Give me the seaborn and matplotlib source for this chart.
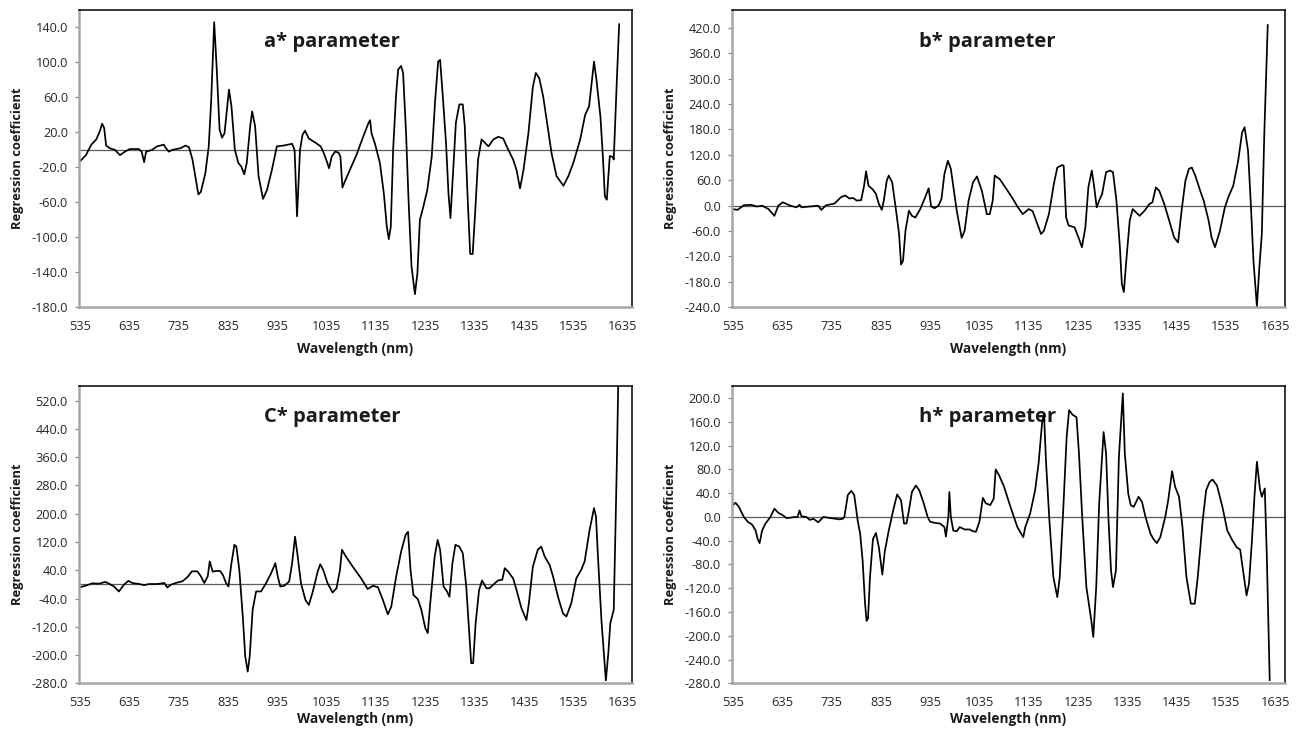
import matplotlib
matplotlib.use("Agg")
import matplotlib.pyplot as plt
import seaborn as sns
import pandas as pd
from matplotlib.ticker import FixedLocator, FormatStrFormatter

# ---------------- data (wavelength nm, regression coefficient) ----------------
A_DATA = [(535, -13), (547, -6), (558, 6), (568, 12), (575, 21), (580, 30), (584, 25), (588, 5), (595, 2),
          (606, 0), (616, -6), (626, -2), (636, 1), (654, 1), (660, -2), (665, -14), (669, -2), (681, 0),
          (691, 4), (705, 6), (708, 3), (715, -2), (722, 0), (739, 2), (749, 5), (756, 3), (763, -11),
          (770, -34), (775, -51), (780, -48), (789, -27), (796, 4), (801, 57), (807, 146), (812, 95),
          (818, 23), (823, 14), (828, 19), (837, 69), (842, 50), (849, 0), (856, -15), (862, -19),
          (868, -28), (873, -15), (880, 27), (884, 44), (890, 27), (897, -30), (906, -56), (914, -46),
          (924, -23), (934, 4), (948, 5), (965, 7), (970, 0), (975, -76), (981, 0), (986, 17), (991, 22),
          (999, 13), (1013, 8), (1023, 4), (1028, -2), (1034, -11), (1040, -21), (1045, -8), (1052, -2),
          (1059, -3), (1063, -8), (1067, -43), (1072, -36), (1082, -23), (1096, -5), (1109, 15),
          (1120, 31), (1123, 34), (1126, 19), (1133, 7), (1143, -15), (1151, -50), (1157, -88),
          (1161, -102), (1165, -88), (1170, 3), (1176, 65), (1180, 92), (1186, 96), (1190, 88),
          (1196, 19), (1201, -57), (1207, -133), (1214, -165), (1219, -141), (1224, -80), (1231, -65),
          (1239, -46), (1248, -8), (1255, 57), (1261, 101), (1265, 103), (1270, 65), (1277, 8),
          (1282, -50), (1286, -78), (1292, -19), (1297, 31), (1304, 52), (1311, 52), (1315, 27),
          (1321, -57), (1326, -119), (1331, -119), (1336, -72), (1342, -11), (1349, 12), (1356, 8),
          (1363, 4), (1373, 12), (1383, 15), (1393, 13), (1400, 4), (1413, -11), (1420, -23), (1427, -44),
          (1434, -23), (1444, 19), (1453, 72), (1459, 88), (1466, 82), (1474, 61), (1481, 34), (1491, -4),
          (1501, -30), (1515, -41), (1525, -30), (1535, -15), (1549, 12), (1559, 40), (1567, 50),
          (1572, 76), (1577, 101), (1582, 80), (1590, 38), (1595, -8), (1599, -53), (1603, -57),
          (1606, -31), (1609, -7), (1615, -8), (1617, -11), (1623, 76), (1628, 144)]

B_DATA = [(535, -8), (544, -10), (557, 1), (571, 2), (584, -2), (594, 0), (607, -8), (619, -24), (627, 0),
          (636, 8), (651, 0), (664, -4), (670, 2), (674, -4), (691, -2), (708, 0), (714, -10), (724, 1),
          (741, 5), (754, 20), (763, 24), (771, 17), (779, 18), (786, 12), (795, 13), (801, 47), (805, 81),
          (810, 47), (818, 39), (825, 28), (831, 4), (837, -10), (841, 12), (847, 59), (851, 71), (858, 55),
          (865, -4), (872, -67), (876, -139), (880, -130), (885, -59), (892, -12), (898, -24), (905, -28),
          (915, -8), (925, 20), (932, 41), (937, -2), (944, -6), (952, 0), (958, 16), (964, 75), (971, 106),
          (977, 87), (989, -12), (999, -76), (1005, -59), (1013, 12), (1022, 55), (1030, 69), (1040, 35),
          (1050, -20), (1056, -20), (1062, 12), (1066, 71), (1076, 63), (1090, 39), (1103, 16), (1113, -4),
          (1123, -20), (1135, -8), (1143, -13), (1150, -35), (1160, -67), (1166, -59), (1176, -20),
          (1186, 51), (1193, 90), (1203, 96), (1206, 94), (1211, -28), (1216, -47), (1228, -51),
          (1236, -75), (1243, -98), (1250, -51), (1256, 43), (1263, 83), (1268, 43), (1273, -4), (1278, 12),
          (1284, 28), (1292, 79), (1300, 83), (1306, 79), (1313, 12), (1320, -98), (1324, -185),
          (1328, -204), (1333, -130), (1340, -35), (1346, -8), (1353, -16), (1360, -24), (1370, -12),
          (1380, 4), (1386, 8), (1393, 43), (1400, 35), (1410, 4), (1420, -35), (1430, -75), (1438, -87),
          (1446, -4), (1453, 59), (1460, 87), (1466, 90), (1473, 71), (1483, 35), (1490, 12), (1500, -35),
          (1506, -75), (1513, -98), (1523, -59), (1533, -4), (1540, 20), (1550, 47), (1560, 106),
          (1568, 173), (1573, 185), (1580, 130), (1586, -4), (1591, -130), (1598, -238), (1603, -145),
          (1608, -67), (1613, 169), (1620, 427)]

C_DATA = [(535, -8), (548, -3), (560, 3), (574, 2), (586, 7), (594, 2), (604, -6), (614, -20), (624, -1),
          (633, 10), (641, 4), (655, 1), (665, -2), (675, 1), (692, 1), (706, 4), (712, -9), (719, -1),
          (729, 4), (743, 9), (753, 21), (762, 37), (773, 37), (780, 23), (787, 4), (794, 23), (798, 65),
          (804, 36), (810, 38), (819, 38), (825, 26), (831, 4), (836, -6), (842, 60), (848, 112), (852, 107),
          (858, 41), (865, -91), (870, -204), (875, -247), (879, -204), (885, -72), (892, -20), (902, -20),
          (912, 3), (922, 30), (931, 60), (936, 22), (941, -6), (949, -4), (959, 8), (965, 60), (971, 135),
          (976, 83), (983, 3), (992, -44), (999, -58), (1007, -20), (1017, 37), (1022, 57), (1028, 41),
          (1037, 3), (1047, -23), (1055, -11), (1062, 41), (1066, 98), (1074, 79), (1088, 50), (1105, 17),
          (1118, -13), (1129, -4), (1139, -8), (1149, -44), (1159, -85), (1166, -63), (1176, 23),
          (1186, 93), (1195, 140), (1200, 149), (1205, 41), (1211, -30), (1220, -42), (1227, -72),
          (1235, -124), (1240, -138), (1245, -53), (1254, 79), (1260, 126), (1265, 98), (1272, -6),
          (1279, -20), (1284, -35), (1290, 60), (1296, 112), (1304, 107), (1311, 88), (1318, -6),
          (1325, -157), (1328, -223), (1332, -223), (1337, -110), (1344, -16), (1350, 11), (1359, -11),
          (1365, -11), (1376, 3), (1382, 11), (1391, 13), (1396, 46), (1403, 36), (1413, 17), (1420, -16),
          (1430, -68), (1440, -101), (1445, -53), (1453, 50), (1463, 98), (1470, 107), (1477, 79),
          (1487, 55), (1494, 22), (1504, -35), (1514, -82), (1521, -91), (1531, -53), (1541, 17),
          (1551, 41), (1558, 65), (1568, 154), (1577, 216), (1581, 192), (1585, 79), (1592, -100),
          (1601, -272), (1606, -195), (1610, -110), (1617, -72), (1623, 324), (1627, 640)]

D_DATA = [(535, 20), (540, 24), (547, 17), (557, 0), (565, -8), (574, -13), (581, -23), (585, -37), (589, -44),
          (594, -23), (601, -11), (611, 0), (619, 14), (627, 7), (636, 3), (644, -2), (661, 0), (666, 0),
          (670, 11), (674, 1), (684, 0), (691, -5), (698, -3), (708, -9), (718, 0), (734, -2), (751, -4),
          (758, -3), (761, 0), (768, 37), (775, 44), (781, 37), (788, -6), (793, -28), (798, -73),
          (803, -146), (806, -175), (809, -171), (813, -101), (819, -37), (825, -27), (831, -51), (838, -97),
          (843, -58), (851, -23), (860, 11), (868, 38), (876, 28), (882, -11), (887, -11), (892, 11),
          (898, 42), (906, 53), (913, 45), (922, 23), (930, 0), (935, -8), (945, -10), (955, -11),
          (964, -17), (967, -33), (972, 0), (974, 42), (977, 0), (982, -23), (989, -24), (995, -17),
          (1005, -21), (1015, -21), (1022, -24), (1028, -25), (1035, -8), (1042, 32), (1048, 23),
          (1057, 20), (1064, 31), (1068, 80), (1075, 70), (1085, 51), (1098, 17), (1112, -17), (1124, -34),
          (1128, -17), (1138, 6), (1148, 45), (1155, 90), (1162, 157), (1166, 174), (1170, 95), (1177, -6),
          (1185, -101), (1193, -135), (1198, -101), (1205, 11), (1212, 135), (1217, 180), (1224, 172),
          (1232, 168), (1237, 107), (1244, -6), (1252, -118), (1262, -174), (1266, -202), (1272, -118),
          (1278, 23), (1287, 143), (1292, 107), (1297, -6), (1302, -90), (1306, -118), (1312, -90),
          (1318, 101), (1323, 168), (1326, 208), (1330, 107), (1337, 39), (1342, 20), (1348, 17),
          (1358, 34), (1365, 25), (1372, 0), (1382, -28), (1388, -37), (1395, -44), (1402, -34), (1412, 0),
          (1418, 28), (1426, 77), (1432, 51), (1440, 34), (1447, -17), (1455, -101), (1464, -146),
          (1472, -146), (1478, -101), (1488, -6), (1495, 45), (1502, 59), (1508, 63), (1517, 53),
          (1528, 17), (1538, -23), (1548, -39), (1557, -51), (1564, -55), (1568, -79), (1577, -132),
          (1582, -112), (1588, -39), (1593, 34), (1598, 93), (1604, 48), (1608, 34), (1614, 48),
          (1618, -62), (1624, -275)]

X_TICKS = [535, 635, 735, 835, 935, 1035, 1135, 1235, 1335, 1435, 1535, 1635]
A_YTICKS = [-180, -140, -100, -60, -20, 20, 60, 100, 140]
B_YTICKS = [-240, -180, -120, -60, 0, 60, 120, 180, 240, 300, 360, 420]
C_YTICKS = [-280, -200, -120, -40, 40, 120, 200, 280, 360, 440, 520]
D_YTICKS = [-280, -240, -200, -160, -120, -80, -40, 0, 40, 80, 120, 160, 200]
TITLES = ["a* parameter", "b* parameter", "C* parameter", "h* parameter"]
X_LABEL = "Wavelength (nm)"
Y_LABEL = "Regression coefficient"

# ---------------- style ----------------
sns.set_style("white")
plt.rcParams["font.family"] = ["Open Sans", "DejaVu Sans"]

W, H = 1300, 733
fig = plt.figure(figsize=(13, 7.33), dpi=100)

# pixel boxes (x0, y0, x1, y1)
boxes = [(79, 10, 632, 307.3), (732, 10, 1284.5, 307.3),
         (79, 385.7, 632, 683.3), (732, 385.7, 1284.5, 683.3)]
ylims = [(-180, 160), (-240, 462), (-280, 562.5), (-280, 221)]
yticks = [A_YTICKS, B_YTICKS, C_YTICKS, D_YTICKS]
datas = [A_DATA, B_DATA, C_DATA, D_DATA]
xlab_y = [-0.118, -0.118, -0.098, -0.098]

for i, (box, data) in enumerate(zip(boxes, datas)):
    x0, y0, x1, y1 = box
    ax = fig.add_axes([x0 / W, 1 - y1 / H, (x1 - x0) / W, (y1 - y0) / H])
    df = pd.DataFrame(data, columns=["wl", "coef"])
    ax.axhline(0, color="#5a5a5a", lw=0.9, zorder=1.5)
    sns.lineplot(data=df, x="wl", y="coef", ax=ax, color="black", lw=1.25,
                 sort=False, estimator=None, zorder=2)
    ax.set_xlim(533, 1654)
    ax.set_ylim(*ylims[i])
    ax.xaxis.set_major_locator(FixedLocator(X_TICKS))
    ax.yaxis.set_major_locator(FixedLocator(yticks[i]))
    ax.yaxis.set_major_formatter(FormatStrFormatter("%.1f"))
    ax.tick_params(axis="x", length=0, pad=9.5, labelsize=9.2, labelcolor="#262626")
    ax.tick_params(axis="y", length=3, width=0.9, color="#8c8c8c", direction="out",
                   pad=5, labelsize=9.2, labelcolor="#262626", left=True)
    for s in ("left", "bottom"):
        ax.spines[s].set_color("#a6a6a6")
        ax.spines[s].set_linewidth(1.8)
    for s in ("top", "right"):
        ax.spines[s].set_color("black")
        ax.spines[s].set_linewidth(1.1)
    ax.set_xlabel(X_LABEL, fontsize=9.8, fontweight="bold", color="#1a1a1a")
    ax.set_ylabel(Y_LABEL, fontsize=9.3, fontweight="bold", color="#1a1a1a")
    ax.xaxis.set_label_coords(0.5, xlab_y[i])
    ax.xaxis.label.set_va("top")
    ax.yaxis.set_label_coords(-0.1, 0.5)
    tx = 0.458 if i % 2 == 0 else 0.462
    ty = 0.893 if i < 2 else 0.896
    ax.text(tx, ty, TITLES[i], transform=ax.transAxes, ha="center", va="center",
            fontsize=14.5, fontweight="bold", color="#1a1a1a", zorder=1)

fig.savefig("out.png", dpi=100)
